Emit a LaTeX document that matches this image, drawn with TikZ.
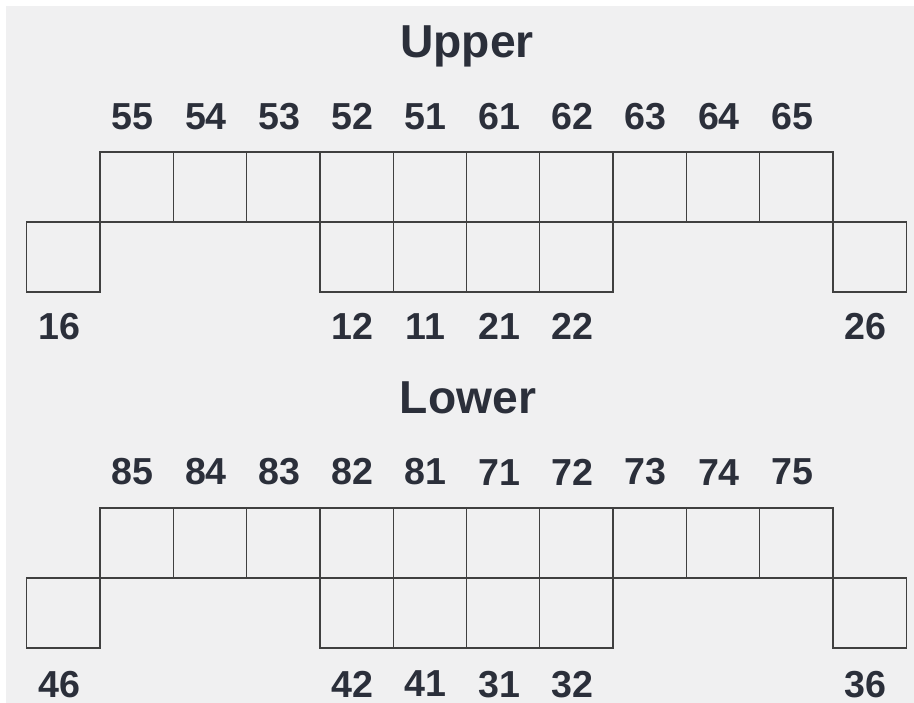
\documentclass[tikz,border=0pt]{standalone}
\usepackage{fontspec}
\setmainfont{Liberation Sans}
\usetikzlibrary{positioning}
\definecolor{ink}{HTML}{2B2F3A}
\definecolor{paper}{HTML}{F0F0F1}
\definecolor{rule}{HTML}{404040}

\begin{document}
\begin{tikzpicture}[x=0.02cm,y=-0.02cm,
  tooth/.style={draw=rule,line width=0.75pt,minimum width=1.466cm,minimum height=1.4cm,
    inner sep=0pt,outer sep=0pt},
  num/.style={font=\bfseries\fontsize{21.4}{24}\selectfont,text=ink,inner sep=0pt,xshift=-0.08cm},
  jaw/.style={font=\bfseries\fontsize{26.3}{30}\selectfont,text=ink,inner sep=0pt}]
  % sheet
  \fill[white] (0,0) rectangle (914,703);
  \fill[paper] (6,6) rectangle (914,703);

  % upper jaw
  \node[jaw] (upper) at (467,46) {Upper};
  \node[tooth] (t55) at (136.7,187) {};
  \node[tooth,right=0pt of t55] (t54) {};
  \node[tooth,right=0pt of t54] (t53) {};
  \node[tooth,right=0pt of t53] (t52) {};
  \node[tooth,right=0pt of t52] (t51) {};
  \node[tooth,right=0pt of t51] (t61) {};
  \node[tooth,right=0pt of t61] (t62) {};
  \node[tooth,right=0pt of t62] (t63) {};
  \node[tooth,right=0pt of t63] (t64) {};
  \node[tooth,right=0pt of t64] (t65) {};
  % permanent teeth, upper
  \node[tooth,below left=0pt of t55] (t16) {};
  \node[tooth,below=0pt of t52] (t12) {};
  \node[tooth,below=0pt of t51] (t11) {};
  \node[tooth,below=0pt of t61] (t21) {};
  \node[tooth,below=0pt of t62] (t22) {};
  \node[tooth,below right=0pt of t65] (t26) {};
  % numbers, upper
  \node[num,above=0.43cm of t55] (n55) {55};
  \node[num,above=0.43cm of t54] (n54) {54};
  \node[num,above=0.43cm of t53] (n53) {53};
  \node[num,above=0.43cm of t52] (n52) {52};
  \node[num,above=0.43cm of t51] (n51) {51};
  \node[num,above=0.43cm of t61] (n61) {61};
  \node[num,above=0.43cm of t62] (n62) {62};
  \node[num,above=0.43cm of t63] (n63) {63};
  \node[num,above=0.43cm of t64] (n64) {64};
  \node[num,above=0.43cm of t65] (n65) {65};
  \node[num,below=0.42cm of t16] (n16) {16};
  \node[num,below=0.42cm of t12] (n12) {12};
  \node[num,below=0.42cm of t11] (n11) {11};
  \node[num,below=0.42cm of t21] (n21) {21};
  \node[num,below=0.42cm of t22] (n22) {22};
  \node[num,below=0.42cm of t26] (n26) {26};

  % lower jaw
  \node[jaw] (lower) at (468,398) {Lower};
  \node[tooth] (t85) at (136.7,543) {};
  \node[tooth,right=0pt of t85] (t84) {};
  \node[tooth,right=0pt of t84] (t83) {};
  \node[tooth,right=0pt of t83] (t82) {};
  \node[tooth,right=0pt of t82] (t81) {};
  \node[tooth,right=0pt of t81] (t71) {};
  \node[tooth,right=0pt of t71] (t72) {};
  \node[tooth,right=0pt of t72] (t73) {};
  \node[tooth,right=0pt of t73] (t74) {};
  \node[tooth,right=0pt of t74] (t75) {};
  % permanent teeth, lower
  \node[tooth,below left=0pt of t85] (t46) {};
  \node[tooth,below=0pt of t82] (t42) {};
  \node[tooth,below=0pt of t81] (t41) {};
  \node[tooth,below=0pt of t71] (t31) {};
  \node[tooth,below=0pt of t72] (t32) {};
  \node[tooth,below right=0pt of t75] (t36) {};
  % numbers, lower
  \node[num,above=0.45cm of t85] (n85) {85};
  \node[num,above=0.45cm of t84] (n84) {84};
  \node[num,above=0.45cm of t83] (n83) {83};
  \node[num,above=0.45cm of t82] (n82) {82};
  \node[num,above=0.45cm of t81] (n81) {81};
  \node[num,above=0.45cm of t71] (n71) {71};
  \node[num,above=0.45cm of t72] (n72) {72};
  \node[num,above=0.45cm of t73] (n73) {73};
  \node[num,above=0.45cm of t74] (n74) {74};
  \node[num,above=0.45cm of t75] (n75) {75};
  \node[num,below=0.45cm of t46] (n46) {46};
  \node[num,below=0.45cm of t42] (n42) {42};
  \node[num,below=0.45cm of t41] (n41) {41};
  \node[num,below=0.45cm of t31] (n31) {31};
  \node[num,below=0.45cm of t32] (n32) {32};
  \node[num,below=0.45cm of t36] (n36) {36};
\end{tikzpicture}
\end{document}
